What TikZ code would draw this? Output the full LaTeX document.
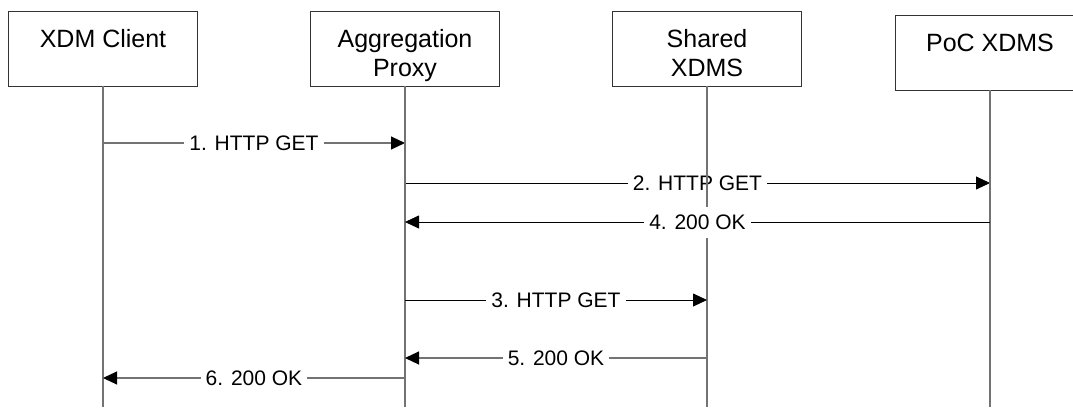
\documentclass[tikz,border=0pt]{standalone}
\usepackage{fontspec}
\setmainfont{Liberation Sans}
\usetikzlibrary{arrows.meta}

\begin{document}
\begin{tikzpicture}[x=1pt,y=-1pt,
  entity/.style={draw=black!80,line width=0.8pt,minimum width=189pt,minimum height=75pt,
    align=center,font=\fontsize{25}{29}\selectfont,text height=61pt,text depth=6pt},
  life/.style={draw=black!55,line width=1.1pt},
  msg/.style={line width=0.8pt,-{Triangle[length=14pt,width=13pt,color=black]}},
  greymsg/.style={msg,draw=black!55,line width=1.1pt},
  lbl/.style={fill=white,font=\fontsize{21}{25}\selectfont,text height=15pt,text depth=0pt,
    inner xsep=5pt,inner ysep=8pt}]
\useasboundingbox (0,0) rectangle (1073,407);

\node[entity] (client) at (103,48.5) {XDM Client\\\mbox{}};
\node[entity] (proxy) at (405,48.5) {Aggregation\\Proxy};
\node[entity] (shared) at (707,48.5) {Shared\\XDMS};
\node[entity] (poc) at (990,52.5) {PoC XDMS\\\mbox{}};

\foreach \e in {client,proxy,shared,poc}
  \coordinate (\e-end) at (\e.south |- 0,407);

\draw[greymsg] (client.south |- 0,143) -- node[lbl] {1. HTTP GET} (proxy.south |- 0,143);
\draw[msg] (proxy.south |- 0,183) -- node[lbl] {2. HTTP GET} (poc.south |- 0,183);

\foreach \e in {client,proxy,shared,poc}
  \draw[life] (\e.south) -- (\e-end);

\draw[msg] (poc.south |- 0,222) -- node[lbl] {4. 200 OK} (proxy.south |- 0,222);
\draw[msg] (proxy.south |- 0,300) -- node[lbl] {3. HTTP GET} (shared.south |- 0,300);
\draw[greymsg] (shared.south |- 0,358) -- node[lbl] {5. 200 OK} (proxy.south |- 0,358);
\draw[greymsg] (proxy.south |- 0,378) -- node[lbl] {6. 200 OK} (client.south |- 0,378);
\end{tikzpicture}
\end{document}
